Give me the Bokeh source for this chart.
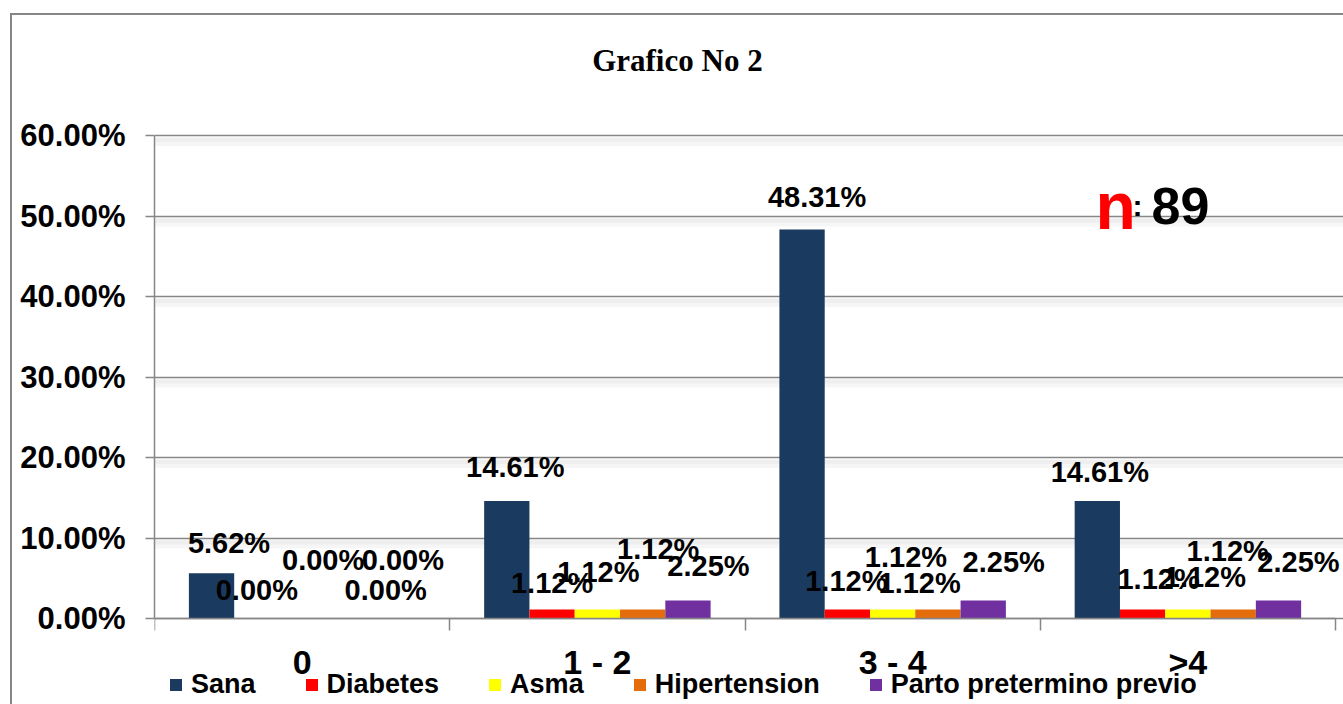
from bokeh.plotting import figure
from bokeh.models import (Range1d, LinearAxis, FixedTicker,
                          PrintfTickFormatter, ColumnDataSource, Legend, LegendItem, Label)
from bokeh.transform import dodge
from bokeh.core.properties import value
from bokeh.embed import file_html
from bokeh.resources import INLINE

# ---------------- data ----------------
categories = ["0", "1 - 2", "3 - 4", ">4"]
series_names = ["Sana", "Diabetes", "Asma", "Hipertension", "Parto pretermino previo"]
sana = [5.62, 14.61, 48.31, 14.61]
diabetes = [0.00, 1.12, 1.12, 1.12]
asma = [0.00, 1.12, 1.12, 1.12]
hipertension = [0.00, 1.12, 1.12, 1.12]
parto = [0.00, 2.25, 2.25, 2.25]
y_ticks = [0, 10, 20, 30, 40, 50, 60]
title_text = "Grafico No 2"
n_value = "89"

# ---------------- styling ----------------
colors = ["#1B3A5F", "#FF0000", "#FFFF00", "#E46C0A", "#7030A0"]
# label nudges in pixels (dx, dy) relative to bar top centre (overlap layout of original)
nudges = [
    [(17.5, -30), (8.5, -34), (15, -33), (2.5, -29)],
    [(0, -29), (0, -27), (-1, -29), (16, -31)],
    [(21, -59), (1, -38), (27, -27), (17, -33)],
    [(55.5, -59), (15.5, -61), (-32, -53), (-5.5, -59)],
    [(-7, -29), (20.5, -34), (20.5, -38), (20, -38)],
]
FONT = value("Liberation Sans")
GRID = "#868686"
bar_w = 0.1534
offsets = [-2 * bar_w, -bar_w, 0, bar_w, 2 * bar_w]
ncat = len(categories)
cat_pos = [i + 0.5 for i in range(ncat)]   # centre of each category slot
x_end = ncat + 0.027
y_lo, y_hi = -10.68, 76.77                   # room for title (top) and legend (bottom)

p = figure(x_range=Range1d(0, x_end), y_range=Range1d(y_lo, y_hi),
           width=1343, height=704, output_backend="svg", toolbar_location=None,
           x_axis_location=None, title_location=None,
           min_border_left=154, min_border_right=0, min_border_top=0, min_border_bottom=0)
p.outline_line_color = None
p.background_fill_color = None
p.border_fill_color = None
p.styles = {
    "background-color": "white",
    "background-image": "linear-gradient(#868686, #868686), linear-gradient(#868686, #868686)",
    "background-size": "2px 100%, 100% 2px",
    "background-position": "10px 13px, 10px 13px",
    "background-repeat": "no-repeat",
}

# y axis
p.yaxis.ticker = FixedTicker(ticks=y_ticks)
p.yaxis.formatter = PrintfTickFormatter(format="%.2f%%")
p.yaxis.bounds = (0, 60)
p.yaxis.axis_line_color = GRID
p.yaxis.axis_line_width = 1.5
p.yaxis.major_tick_line_color = GRID
p.yaxis.major_tick_line_width = 1.5
p.yaxis.major_tick_in = 0
p.yaxis.major_tick_out = 9
p.yaxis.minor_tick_line_color = None
p.yaxis.major_label_text_font = "Liberation Sans"
p.yaxis.major_label_text_font_style = "bold"
p.yaxis.major_label_text_font_size = "31px"
p.yaxis.major_label_text_color = "black"
p.yaxis.major_label_standoff = 20

p.xgrid.grid_line_color = None
p.ygrid.ticker = FixedTicker(ticks=y_ticks)
p.ygrid.grid_line_color = GRID
p.ygrid.grid_line_width = 1.5

# x axis at value 0: category labels at slot centres, boundary ticks as minor ticks
cat_axis = LinearAxis(ticker=FixedTicker(ticks=cat_pos, minor_ticks=list(range(ncat + 1))),
                      major_label_overrides={c: n for c, n in zip(cat_pos, categories)},
                      fixed_location=0, bounds=(0, ncat),
                      axis_line_color=GRID, axis_line_width=1.5,
                      major_tick_line_color=None, major_tick_in=0, major_tick_out=0,
                      minor_tick_line_color=GRID, minor_tick_line_width=1.5,
                      minor_tick_in=0, minor_tick_out=12,
                      major_label_text_font="Liberation Sans", major_label_text_font_style="bold",
                      major_label_text_font_size="34px", major_label_text_color="black",
                      major_label_standoff=12)
p.add_layout(cat_axis, "below")

# gridline shadows
shadow_src = ColumnDataSource(dict(y=[t for t in y_ticks if t > 0]))
p.hbar(y=dodge("y", -0.75), height=1.1, left=0, right=x_end,
       source=shadow_src, fill_color="#000000", fill_alpha=0.035, line_color=None)
p.hbar(y=dodge("y", -0.55), height=0.5, left=0, right=x_end,
       source=shadow_src, fill_color="#000000", fill_alpha=0.03, line_color=None)

all_series = [sana, diabetes, asma, hipertension, parto]
items = []
for name, vals, col, off, nd in zip(series_names, all_series, colors, offsets, nudges):
    src = ColumnDataSource(dict(x=cat_pos, cat=categories, y=vals,
                                text=[f"{v:.2f}%" for v in vals],
                                dx=[a for a, b in nd], dy=[b for a, b in nd]))
    r = p.vbar(x=dodge("x", off), top="y", width=bar_w, source=src,
               fill_color=col, line_color=None)
    items.append(LegendItem(label=name, renderers=[r]))
    p.text(x=dodge("x", off), y="y", text="text", x_offset="dx", y_offset="dy",
           source=src, text_font=FONT, text_font_style="bold", text_font_size="29px",
           text_align="center", text_baseline="middle", text_color="black")

legend = Legend(items=items, orientation="horizontal", location=(14, 4),
                label_text_font="Liberation Sans", label_text_font_style="bold",
                label_text_font_size="27px", label_text_color="black",
                glyph_width=15, glyph_height=15, label_standoff=8, spacing=48,
                padding=0, margin=0, border_line_color=None, background_fill_alpha=0,
                label_height=20)
p.add_layout(legend, "center")

# title and n annotation
p.add_layout(Label(x=1.771, y=69.3, text=title_text, text_font="Liberation Serif",
                   text_font_style="bold", text_font_size="31px", text_align="center",
                   text_baseline="middle", text_color="black"))
p.add_layout(Label(x=3.187, y=51.3, text="n", text_font="Liberation Sans", text_font_style="bold",
                   text_font_size="66px", text_color="#FF0000", text_baseline="alphabetic"))
p.add_layout(Label(x=3.187, y=51.3, x_offset=37, text=":", text_font="Liberation Sans",
                   text_font_style="bold", text_font_size="30px", text_color="black",
                   text_baseline="alphabetic"))
p.add_layout(Label(x=3.187, y=51.3, x_offset=56, text=n_value, text_font="Liberation Sans",
                   text_font_style="bold", text_font_size="52px", text_color="black",
                   text_baseline="alphabetic"))

open("out.html", "w").write(file_html(p, INLINE))
